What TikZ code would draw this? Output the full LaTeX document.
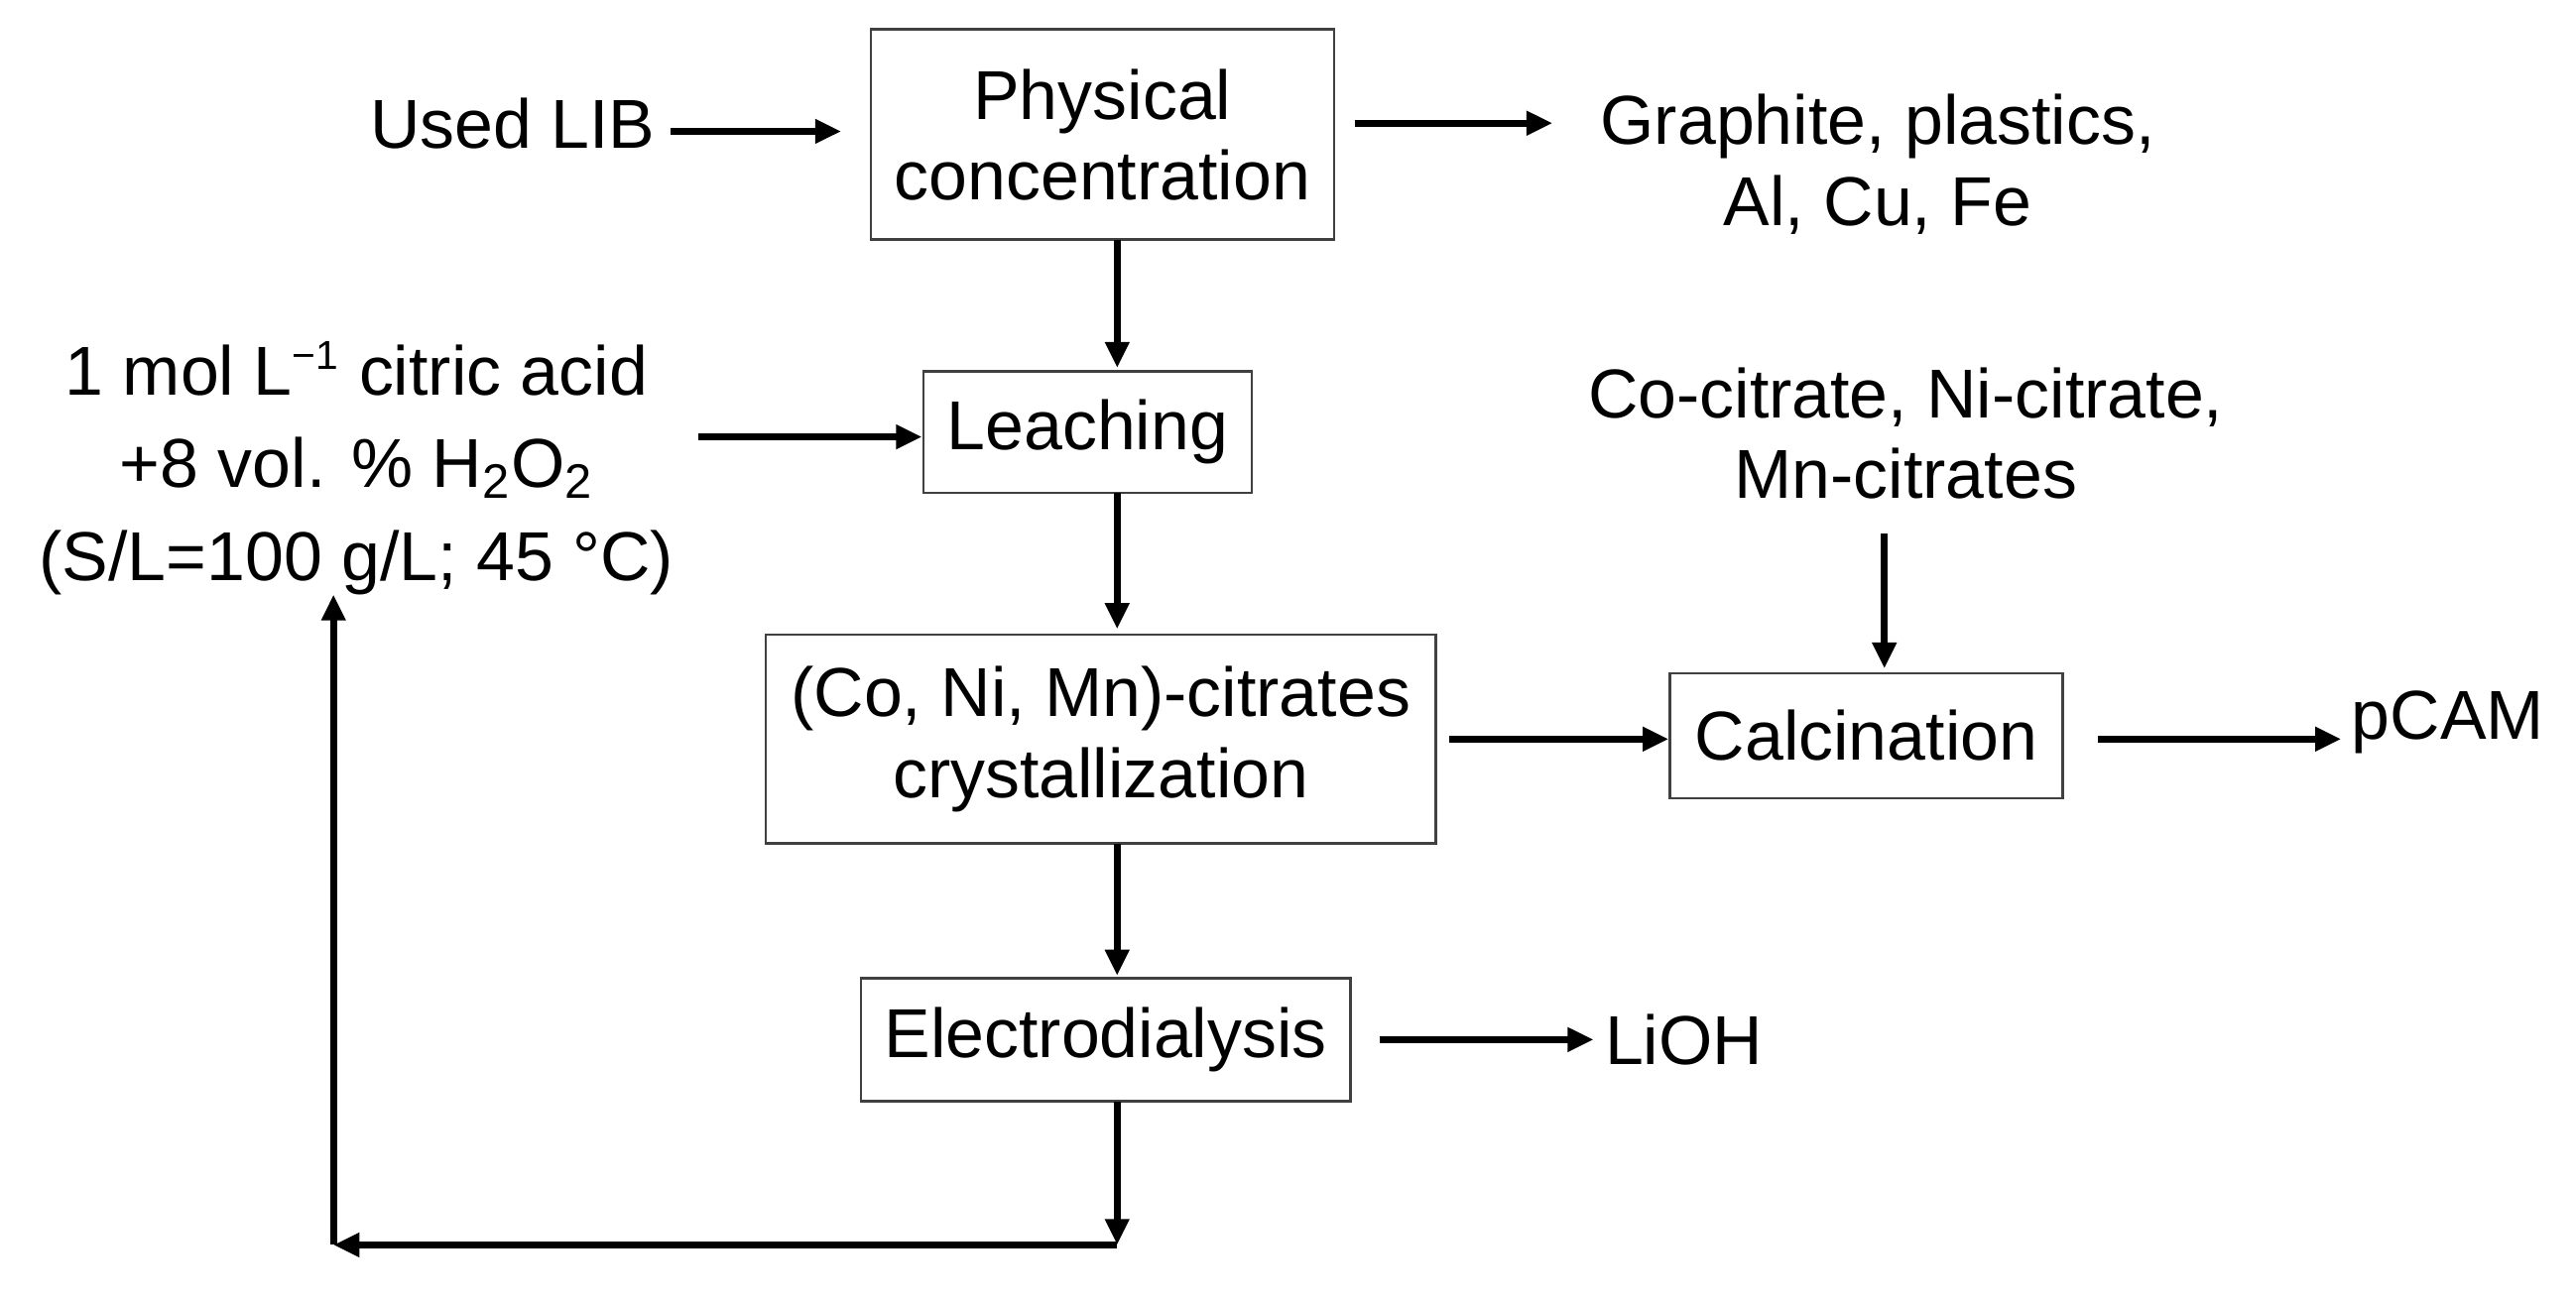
\documentclass[tikz,border=0pt]{standalone}
\usepackage{fontspec}
\setmainfont{Liberation Sans}
\usetikzlibrary{arrows.meta}
\begin{document}
\begin{tikzpicture}[x=0.02cm,y=-0.02cm,
  box/.style={draw=black!75,line width=0.9pt,inner sep=0pt,font=\fontsize{24}{28}\selectfont,align=center},
  txt/.style={inner sep=0pt,font=\fontsize{24}{28}\selectfont,align=center},
  arr/.style={line width=2.3pt,-{Triangle[length=9pt,width=8pt]}}]
\useasboundingbox (0,0) rectangle (1568,793);
\node[box,minimum width=282*0.02cm,minimum height=128*0.02cm] (phys) at (671,82) {Physical\\concentration};
\node[txt] (lib) at (312,75) {Used LIB};
\node[txt] (graph) at (1143,100) {Graphite, plastics,\\Al, Cu, Fe};
\node[box,minimum width=200*0.02cm,minimum height=74*0.02cm] (leach) at (662,263) {Leaching};
\node[txt,font=\fontsize{24}{32}\selectfont] (acid) at (217,285) {1 mol L\textsuperscript{\fontsize{14}{14}\selectfont−1} citric acid\\+8 vol. \% H\textsubscript{2}O\textsubscript{2}\\(S/L=100 g/L; 45 °C)};
\node[txt] (cocit) at (1160,264) {Co-citrate, Ni-citrate,\\Mn-citrates};
\node[box,minimum width=408*0.02cm,minimum height=127*0.02cm] (cryst) at (670,450) {(Co, Ni, Mn)-citrates\\crystallization};
\node[box,minimum width=239*0.02cm,minimum height=76*0.02cm] (calc) at (1136,448) {Calcination};
\node[txt] (pcam) at (1490,440) {pCAM};
\node[box,minimum width=298*0.02cm,minimum height=75*0.02cm] (elec) at (673,633) {Electrodialysis};
\node[txt] (lioh) at (1025,633) {LiOH};
\coordinate (c1) at (680,758);
\coordinate (c2) at (203,758);
\coordinate (c3) at (203,362);
\draw[arr] (408,80) -- (512,80);
\draw[arr] (825,75) -- (945,75);
\draw[arr] (680,146) -- (680,224);
\draw[arr] (425,266) -- (leach.west |- 0,266);
\draw[arr] (680,300) -- (680,383);
\draw[arr] (1147,325) -- (1147,407);
\draw[arr] (882,450) -- (calc.west |- 0,450);
\draw[arr] (1277,450) -- (1425,450);
\draw[arr] (680,514) -- (680,594);
\draw[arr] (840,633) -- (970,633);
\draw[arr] (680,671) -- (c1);
\draw[arr] (c1) -- (c2);
\draw[arr] (c2) -- (c3);
\end{tikzpicture}
\end{document}
